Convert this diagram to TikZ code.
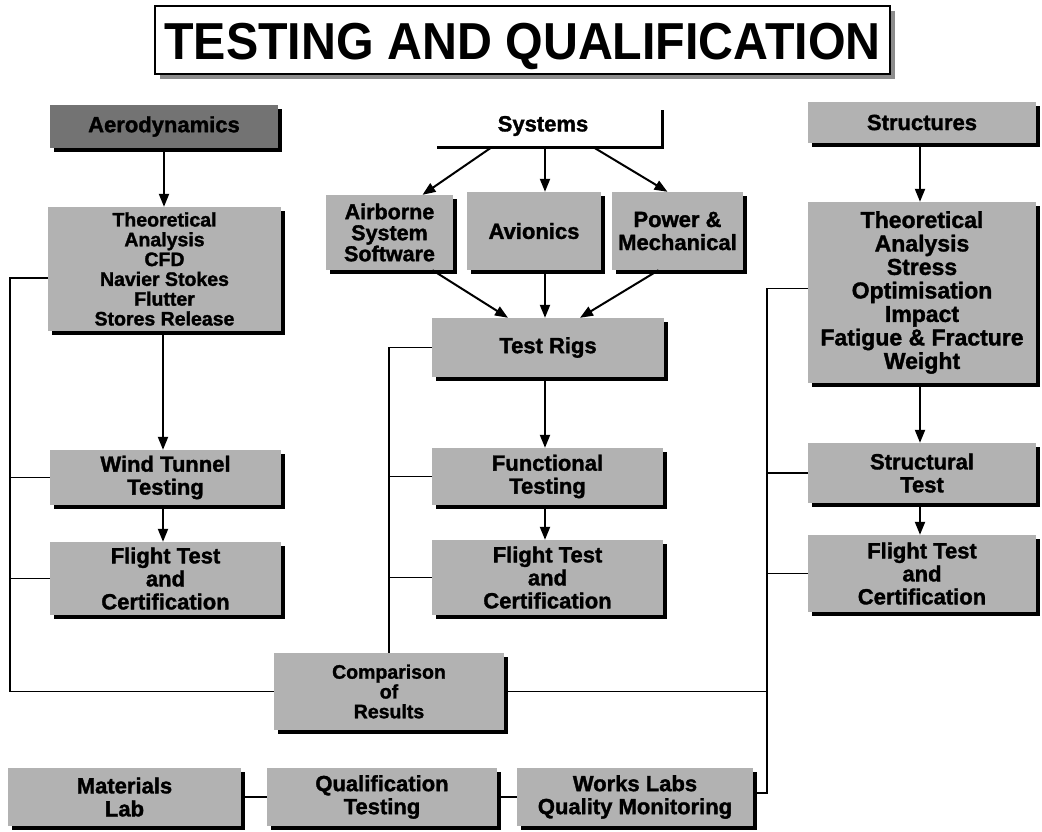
\documentclass[tikz,border=0pt]{standalone}
\usepackage{fontspec}
\setmainfont{Liberation Sans}[BoldFeatures={FakeBold=1.5}]
\newfontfamily\titlefont{Liberation Sans}[FakeStretch=0.93]
\usetikzlibrary{arrows.meta,shadows,calc}
\tikzset{
  bx/.style={fill=black!30, inner sep=0pt, align=center,
    font=\bfseries\fontsize{22}{23}\selectfont,
    drop shadow={shadow xshift=4pt, shadow yshift=-4pt, fill=black, opacity=1}},
  tight/.style={font=\bfseries\fontsize{19.5}{19.8}\selectfont},
  darkbx/.style={bx, fill=black!55},
  arr/.style={line width=2pt, -{Triangle[length=13pt,width=10pt]}},
  bus/.style={line width=1.5pt},
  sysline/.style={line width=3pt},
  titlebox/.style={draw=black, line width=2pt, fill=white, inner sep=0pt,
    text height=38pt, text depth=0pt,
    font=\titlefont\fontsize{52}{52}\selectfont,
    drop shadow={shadow xshift=5pt, shadow yshift=-5pt, fill=black!45, opacity=1}}
}
\begin{document}
\begin{tikzpicture}[x=1pt,y=-1pt]
\useasboundingbox[fill=white] (0,0) rectangle (1042,831);

% title
\node[titlebox, minimum width=735pt, minimum height=68pt] (title) at (522.5,40) {\textbf{TESTING AND QUALIFICATION}};

% left column
\node[darkbx, minimum width=228pt, minimum height=43pt] (aero) at (164,126.5) {Aerodynamics};
\node[bx, tight, minimum width=233pt, minimum height=124pt] (thL) at (164.5,269) {Theoretical\\Analysis\\CFD\\Navier Stokes\\Flutter\\Stores Release};
\node[bx, minimum width=231pt, minimum height=55pt] (wind) at (165.5,477.5) {Wind Tunnel\\Testing};
\node[bx, minimum width=231pt, minimum height=73pt] (ftL) at (165.5,578.5) {Flight Test\\and\\Certification};

% middle column
\node[font=\bfseries\fontsize{22}{22}\selectfont] (sys) at (543,126) {Systems};
\coordinate (sysLeft) at (437,147);
\coordinate (sysCorner) at (662,147);
\coordinate (sysTop) at (662,110);
\coordinate (sysA) at (492,147);
\coordinate (sysB) at (545,147);
\coordinate (sysC) at (593,147);
\node[bx, font=\bfseries\fontsize{21.5}{21}\selectfont, minimum width=127pt, minimum height=75pt] (air) at (389.5,232.5) {Airborne\\System\\Software};
\node[bx, minimum width=134pt, minimum height=78pt] (avi) at (534,231) {Avionics};
\node[bx, minimum width=131pt, minimum height=78pt] (pow) at (677.5,231) {Power \&\\Mechanical};
\node[bx, minimum width=232pt, minimum height=59pt] (rigs) at (548,347.5) {Test Rigs};
\node[bx, minimum width=231pt, minimum height=57pt] (func) at (547.5,476.5) {Functional\\Testing};
\node[bx, minimum width=231pt, minimum height=75pt] (ftM) at (547.5,577.5) {Flight Test\\and\\Certification};

% right column
\node[bx, minimum width=228pt, minimum height=41pt] (str) at (922,122.5) {Structures};
\node[bx, font=\bfseries\fontsize{23}{23.5}\selectfont, minimum width=228pt, minimum height=181pt] (thR) at (922,292.5) {Theoretical\\Analysis\\Stress\\Optimisation\\Impact\\Fatigue \& Fracture\\Weight};
\node[bx, minimum width=228pt, minimum height=60pt] (stt) at (922,473) {Structural\\Test};
\node[bx, minimum width=228pt, minimum height=77pt] (ftR) at (922,573.5) {Flight Test\\and\\Certification};

% comparison and bottom row
\node[bx, tight, minimum width=230pt, minimum height=77pt] (cmp) at (389,691.5) {Comparison\\of\\Results};
\node[bx, minimum width=233pt, minimum height=58pt] (mat) at (124.5,797) {Materials\\Lab};
\node[bx, minimum width=230pt, minimum height=58pt] (qual) at (382,797) {Qualification\\Testing};
\node[bx, minimum width=236pt, minimum height=58pt] (works) at (635,797) {Works Labs\\Quality Monitoring};

% bus coordinates
\coordinate (bl) at (10,0);
\coordinate (br) at (767,0);

% systems bracket
\draw[sysline] (sysLeft) -- (sysCorner) -- (sysTop);
\draw[arr] (sysA) -- ([xshift=33pt]air.north);
\draw[arr] (sysB) -- ([xshift=11pt]avi.north);
\draw[arr] (sysC) -- ([xshift=-10pt]pow.north);
\draw[arr] ([xshift=43pt]air.south) -- ([xshift=-40pt]rigs.north);
\draw[arr] ([xshift=11pt]avi.south) -- ([xshift=-3pt]rigs.north);
\draw[arr] ([xshift=-19pt]pow.south) -- ([xshift=32pt]rigs.north);

% vertical arrows
\draw[arr] (aero.south) -- (aero.south |- thL.north);
\draw[arr] ([xshift=-1.5pt]thL.south) -- ([xshift=-1.5pt]thL.south |- wind.north);
\draw[arr] ([xshift=-2.5pt]wind.south) -- ([xshift=-2.5pt]wind.south |- ftL.north);
\draw[arr] ([xshift=-3pt]rigs.south) -- ([xshift=-3pt]rigs.south |- func.north);
\draw[arr] ([xshift=-2.5pt]func.south) -- ([xshift=-2.5pt]func.south |- ftM.north);
\draw[arr] ([xshift=-2pt]str.south) -- ([xshift=-2pt]str.south |- thR.north);
\draw[arr] ([xshift=-2pt]thR.south) -- ([xshift=-2pt]thR.south |- stt.north);
\draw[arr] ([xshift=-2pt]stt.south) -- ([xshift=-2pt]stt.south |- ftR.north);

% left bus
\draw[bus] ([yshift=-9pt]thL.west) -- ++(-38,0) |- (cmp.west);
\draw[bus] (wind.west) -- (bl |- wind.west);
\draw[bus] (ftL.west) -- (bl |- ftL.west);

% middle bus
\draw[bus] (rigs.west) -| (cmp.north);
\draw[bus] (func.west) -- (cmp.north |- func.west);
\draw[bus] (ftM.west) -- (cmp.north |- ftM.west);

% right bus
\draw[bus] ([yshift=4pt]thR.west) -- ++(-41,0) |- ([yshift=4pt]works.east);
\draw[bus] (stt.west) -- (br |- stt.west);
\draw[bus] (ftR.west) -- (br |- ftR.west);
\draw[bus] (cmp.east) -- (br |- cmp.east);

% bottom links
\draw[bus] (mat.east) -- (qual.west);
\draw[bus] (qual.east) -- (works.west);
\end{tikzpicture}
\end{document}
